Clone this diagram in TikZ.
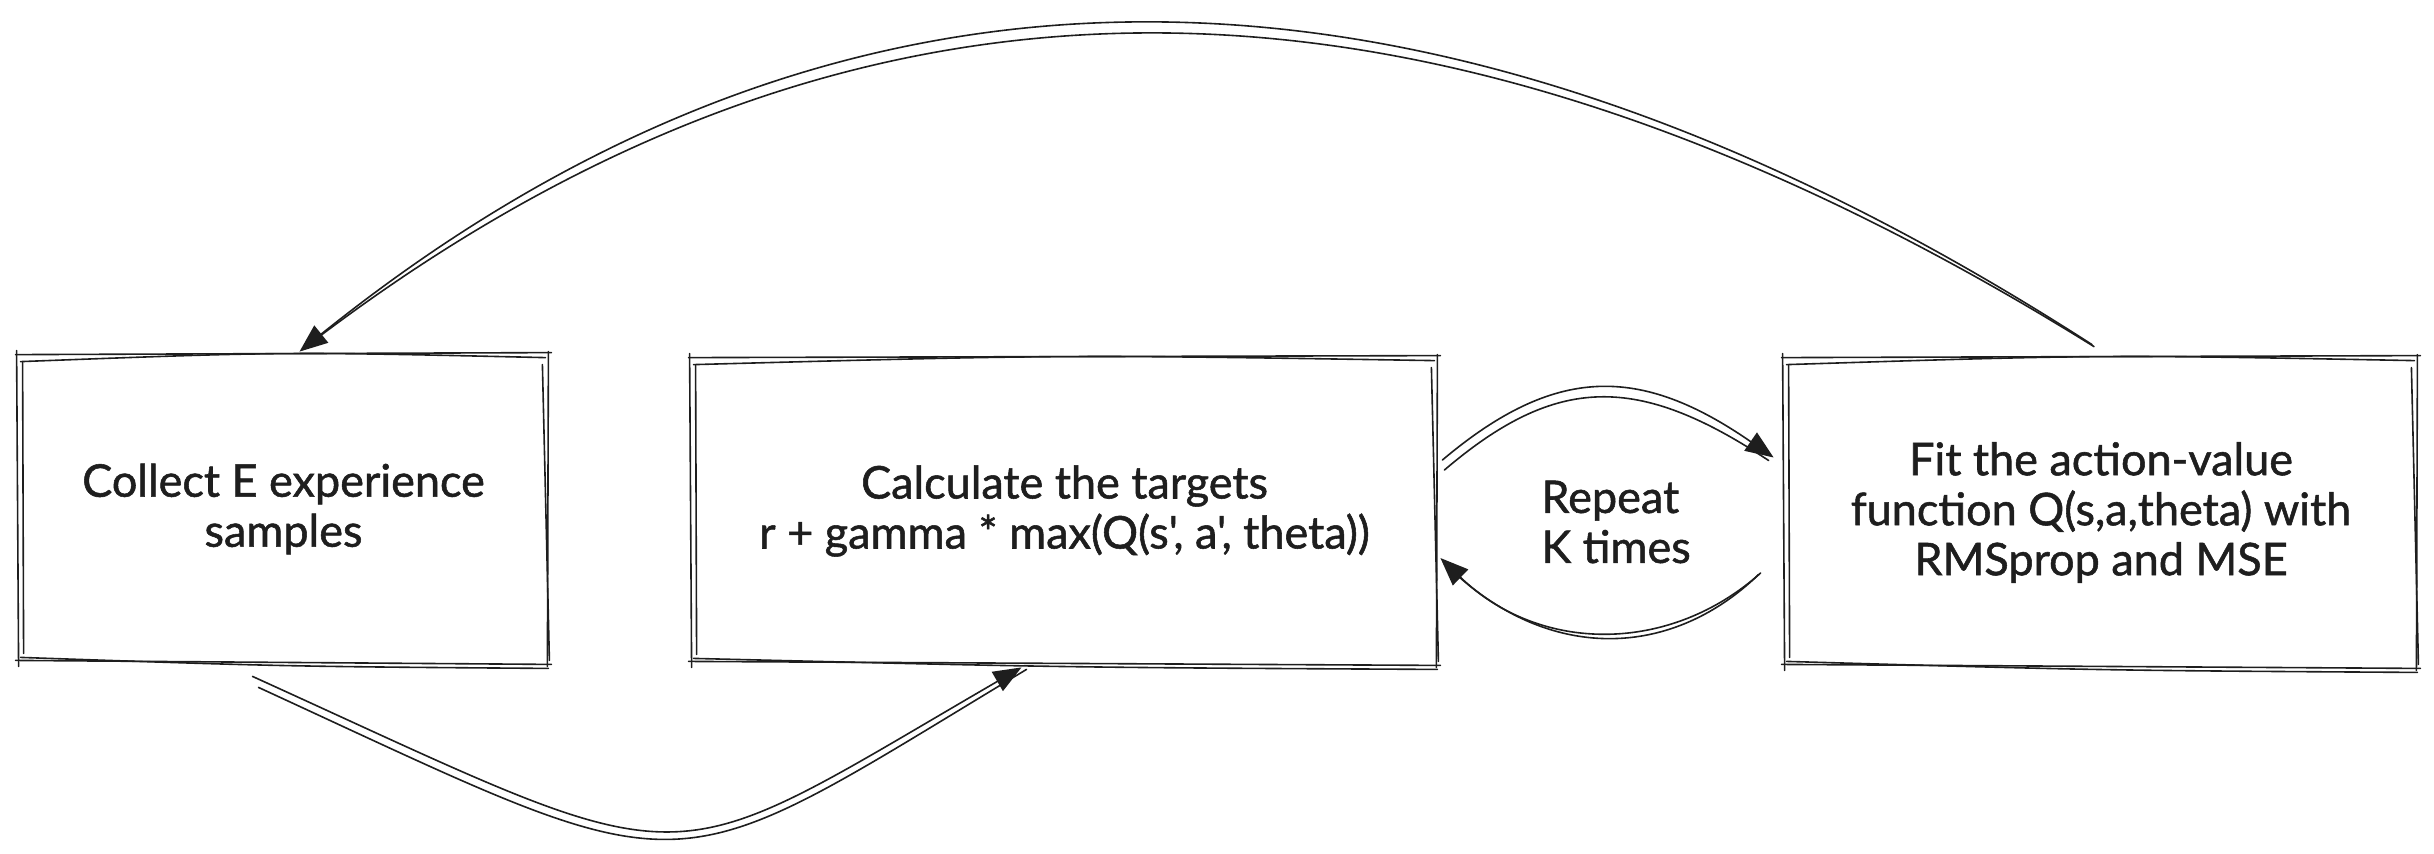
\documentclass[tikz,border=0pt]{standalone}
\usepackage{fontspec}
\setmainfont{Lato}[Ligatures=TeXOff,RawFeature={embolden=1.2}]
\usetikzlibrary{arrows.meta,calc}
\definecolor{ink}{HTML}{1E1E1E}
\newcommand\skbox[1]{%
  % first pass
  \draw[sk] ([shift={(-3,0)}]#1.north west) -- ([shift={(3,-2)}]#1.north east);
  \draw[sk] ([shift={(0,-3)}]#1.north east) -- ([shift={(-1,3)}]#1.south east);
  \draw[sk] ([shift={(3,1)}]#1.south east) -- ([shift={(-3,-3)}]#1.south west);
  \draw[sk] ([shift={(0,3)}]#1.south west) -- ([shift={(-2,-4)}]#1.north west);
  % second pass
  \draw[sk] ([shift={(2,7)}]#1.north west) .. controls ([shift={(0,-3)}]#1.north) .. ([shift={(-3,3)}]#1.north east);
  \draw[sk] ([shift={(-6,10)}]#1.north east) -- ([shift={(1,-3)}]#1.south east);
  \draw[sk] ([shift={(0,5)}]#1.south east) .. controls ([shift={(0,3)}]#1.south) .. ([shift={(2,-6)}]#1.south west);
  \draw[sk] ([shift={(5,-10)}]#1.south west) -- ([shift={(4,8)}]#1.north west);
}
\begin{document}
\begin{tikzpicture}[x=0.5pt,y=-0.5pt,
  sk/.style={draw=ink,line width=0.8pt,line cap=round,line join=round},
  box/.style={inner sep=0pt,align=center,text=ink,font=\fontsize{22.5}{25}\selectfont},
  tip/.style={-{Triangle[length=14pt,width=11pt]}}]
\useasboundingbox (0,0) rectangle (2434,853);

\node[box,minimum width=264.5pt,minimum height=154pt] (col) at (283.5,509)
  {Collect E experience\\samples};
\node[box,minimum width=372.5pt,minimum height=153pt] (calc) at (1064.5,511)
  {Calculate the targets\\r + gamma * max(Q(s', a', theta))};
\node[box,minimum width=316pt,minimum height=154.5pt] (fit) at (2101,512.5)
  {Fit the action-value\\function Q(s,a,theta) with\\RMSprop and MSE};
\node[box,align=left,anchor=west] (rep) at (1541,522) {Repeat\\K times};

\skbox{col}
\skbox{calc}
\skbox{fit}

% top arc: fit -> col
\draw[sk,tip] ([shift={(-9,-13)}]fit.north) .. controls (1427,-84) and (841,-84) .. ([shift={(16,-3)}]col.north);
\draw[sk] ([shift={(-7,-11)}]fit.north) .. controls (1420,-72) and (850,-72) .. ([shift={(20,-6)}]col.north);

% bottom arc: col -> calc
\draw[sk,tip] ([shift={(-31,13)}]col.south) .. controls (707,883) and (650,883) .. ([shift={(-43,3)}]calc.south);
\draw[sk] ([shift={(-25,24)}]col.south) .. controls (705,893) and (655,893) .. ([shift={(-38,5)}]calc.south);

% upper K arc: calc -> fit
\draw[sk,tip] ([shift={(5,-51)}]calc.east) .. controls (1555,365) and (1640,365) .. ([shift={(-11,-55)}]fit.west);
\draw[sk] ([shift={(7,-41)}]calc.east) .. controls (1557,374) and (1638,374) .. ([shift={(-16,-52)}]fit.west);

% lower K arc: fit -> calc
\draw[sk,tip] ([shift={(-24,60.5)}]fit.west) .. controls (1670,654) and (1540,654) .. ([shift={(3,47)}]calc.east);
\draw[sk] ([shift={(-26,62)}]fit.west) .. controls (1668,662) and (1542,662) .. ([shift={(6,51)}]calc.east);
\end{tikzpicture}
\end{document}
